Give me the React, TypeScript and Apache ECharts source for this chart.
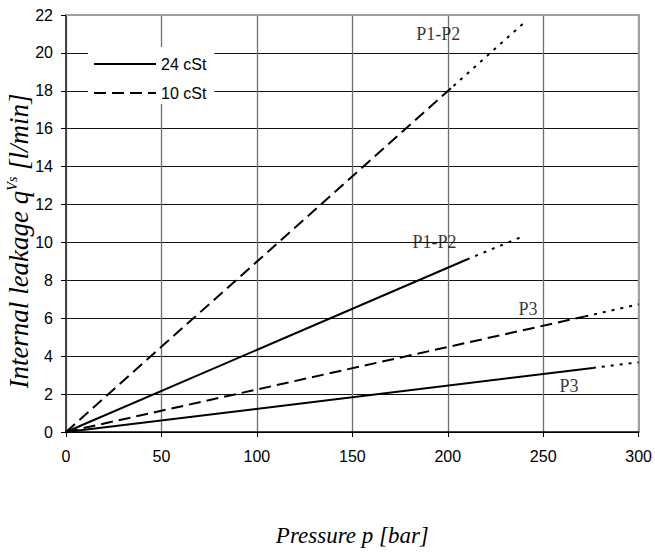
import React, { useEffect, useRef } from "react";
import * as echarts from "echarts";

// Pressure [bar] vs internal leakage [l/min]
const p1p2_24_solid = [[0, 0], [210, 9.1]];
const p1p2_24_dot = [[210, 9.1], [240, 10.35]];
const p1p2_10_dash = [[0, 0], [203, 18.25]];
const p1p2_10_dot = [[203, 18.25], [240, 21.6]];
const p3_10_dash = [[0, 0], [272, 6.1]];
const p3_10_dot = [[272, 6.1], [300, 6.74]];
const p3_24_solid = [[0, 0], [276, 3.38]];
const p3_24_dot = [[276, 3.38], [300, 3.68]];

const curveLabels = [
  { name: "P1-P2", value: [195, 21.0] },
  { name: "P1-P2", value: [193, 10.05] },
  { name: "P3", value: [242, 6.48] },
  { name: "P3", value: [263.5, 2.45] },
];

const legendNames = ["24 cSt", "10 cSt"];

const SANS = "'Liberation Sans', Arial, sans-serif";
const SERIF = "'Liberation Serif', 'Times New Roman', serif";

export default function App() {
  const ref = useRef<HTMLDivElement>(null);
  useEffect(() => {
    if (!ref.current) return;
    const chart = echarts.init(ref.current, null, { renderer: "svg" });
    const solid = { color: "#000", width: 2, type: "solid" as const };
    const dashed = { color: "#000", width: 2, type: [12, 6] as any };
    const dotted = { color: "#000", width: 2, type: [3, 6] as any };
    const line = (name: string, data: number[][], ls: any) => ({
      type: "line",
      name,
      data,
      showSymbol: false,
      symbol: "none",
      lineStyle: ls,
      itemStyle: { color: "#000" },
      silent: true,
      z: 3,
    });
    chart.setOption({
      animation: false,
      backgroundColor: "#fff",
      grid: { left: 66, right: 14, top: 15, bottom: 119, containLabel: false },
      legend: {
        data: legendNames,
        orient: "vertical",
        left: 88,
        top: 47,
        backgroundColor: "#fff",
        padding: [9, 8, 3, 5],
        itemWidth: 62,
        itemHeight: 14,
        itemGap: 13,
        itemStyle: { color: "rgba(0,0,0,0)", borderWidth: 0, opacity: 0 },
        textStyle: { fontFamily: SANS, fontSize: 16, color: "#000" },
        z: 10,
      },
      graphic: [
        {
          type: "text",
          x: 19,
          y: 241,
          rotation: Math.PI / 2,
          z: 10,
          style: {
            text: "{t|Internal leakage q}{s|Vs}{t| [l/min]}",
            align: "center",
            verticalAlign: "middle",
            rich: {
              t: { fontFamily: SERIF, fontStyle: "italic", fontSize: 27, fill: "#000" } as any,
              s: { fontFamily: SERIF, fontStyle: "italic", fontSize: 14, fill: "#000", verticalAlign: "top", padding: [0, 0, 12, 0] } as any,
            },
          },
        },
      ],
      xAxis: [
        {
          type: "value",
          min: 0,
          max: 300,
          interval: 50,
          name: "Pressure p [bar]",
          nameLocation: "middle",
          nameGap: 92,
          nameTextStyle: { fontFamily: SERIF, fontStyle: "italic", fontSize: 23, color: "#000" },
          axisLine: { show: true, lineStyle: { color: "#000", width: 1.5 } },
          axisTick: { show: true, inside: false, length: 5, lineStyle: { color: "#000" } },
          axisLabel: { fontFamily: SANS, fontSize: 16, color: "#000", margin: 16 },
          splitLine: { show: true, lineStyle: { color: "#6f6f6f", width: 1.3 } },
        },
        {
          type: "value",
          position: "top",
          min: 0,
          max: 300,
          interval: 50,
          axisLine: { show: true, onZero: false, lineStyle: { color: "#a0a0a0", width: 2 } },
          axisTick: { show: false },
          axisLabel: { show: false },
          splitLine: { show: false },
        },
      ],
      yAxis: [
        {
          type: "value",
          min: 0,
          max: 22,
          interval: 2,
          axisLine: { show: true, lineStyle: { color: "#444", width: 2 } },
          axisTick: { show: true, inside: false, length: 5, lineStyle: { color: "#000" } },
          axisLabel: { fontFamily: SANS, fontSize: 16, color: "#000", margin: 13 },
          splitLine: { show: true, lineStyle: { color: "#111", width: 1.2 } },
        },
        {
          type: "value",
          position: "right",
          min: 0,
          max: 22,
          interval: 2,
          axisLine: { show: true, onZero: false, lineStyle: { color: "#a0a0a0", width: 2 } },
          axisTick: { show: false },
          axisLabel: { show: false },
          splitLine: { show: false },
        },
      ],
      series: [
        line("24 cSt", p1p2_24_solid, solid),
        line("ext1", p1p2_24_dot, dotted),
        line("10 cSt", p1p2_10_dash, dashed),
        line("ext2", p1p2_10_dot, dotted),
        line("10 cSt", p3_10_dash, dashed),
        line("ext3", p3_10_dot, dotted),
        line("24 cSt", p3_24_solid, solid),
        line("ext4", p3_24_dot, dotted),
        {
          type: "scatter",
          name: "labels",
          data: curveLabels,
          symbolSize: 1,
          itemStyle: { color: "rgba(0,0,0,0)" },
          silent: true,
          z: 5,
          label: {
            show: true,
            position: "inside",
            formatter: (p: any) => p.name,
            fontFamily: SERIF,
            fontSize: 18,
            color: "#000",
            textBorderWidth: 0,
          },
        },
      ],
    });
    return () => chart.dispose();
  }, []);
  return <div ref={ref} style={{ position: "absolute", left: 0, top: 0, width: 655, height: 552 }} />;
}
